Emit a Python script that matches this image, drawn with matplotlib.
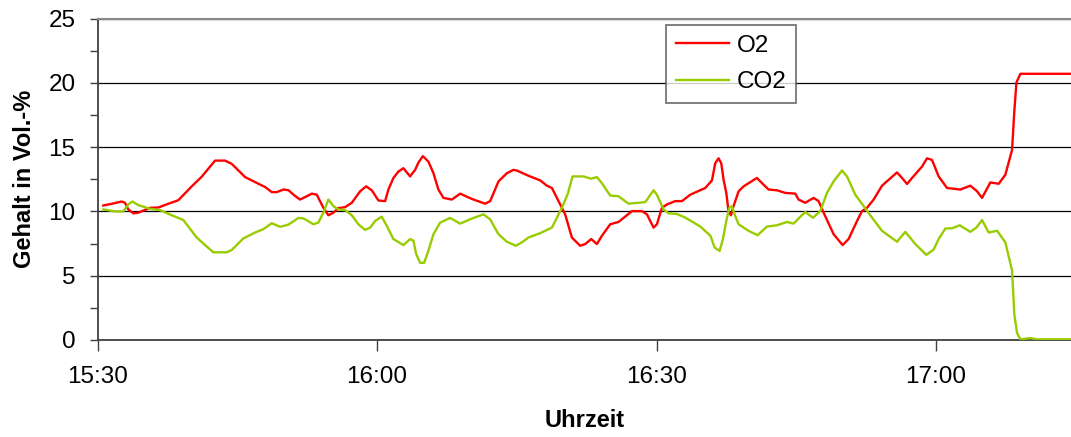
import matplotlib
matplotlib.use("Agg")
import matplotlib.pyplot as plt
from matplotlib.ticker import MultipleLocator

plt.rcParams['font.family'] = ['Liberation Sans', 'DejaVu Sans']

# minutes after 15:30
o2_t = [0.60, 1.50, 2.58, 2.93, 3.29, 3.82, 4.36, 5.62, 6.51, 7.23, 8.66, 10.10, 11.17, 12.60,
        13.67, 14.39, 15.82, 17.25, 17.97, 18.69, 19.23, 19.94, 20.47, 21.19, 21.73, 22.99,
        23.52, 24.23, 24.77, 25.31, 25.84, 26.56, 27.28, 28.17, 28.82, 29.43, 30.14, 30.86,
        31.21, 31.75, 32.29, 32.82, 33.54, 34.08, 34.44, 34.91, 35.51, 36.05, 36.58, 37.12,
        38.02, 38.92, 40.17, 41.60, 42.14, 43.03, 43.93, 44.64, 45.00, 46.25, 47.51, 48.23,
        48.77, 49.30, 50.19, 50.91, 51.80, 52.34, 52.99, 53.60, 54.13, 55.03, 55.92, 57.36,
        58.43, 58.97, 59.68, 60.04, 60.58, 61.12, 62.01, 62.73, 63.62, 65.23, 65.95, 66.30,
        66.66, 66.95, 67.20, 67.49, 67.73, 67.99, 68.27, 68.81, 69.35, 70.78, 71.32, 72.03,
        72.93, 73.82, 74.90, 75.25, 75.97, 76.86, 77.40, 77.94, 79.01, 79.98, 80.62, 81.53,
        82.06, 82.60, 83.31, 84.21, 85.82, 86.36, 86.90, 87.43, 88.51, 89.04, 89.58, 90.29,
        91.19, 92.62, 93.69, 94.42, 94.95, 95.84, 96.74, 97.45, 98.17, 98.42, 98.64, 99.07,
        104.44]
o2_v = [10.46, 10.59, 10.77, 10.67, 10.15, 9.85, 9.90, 10.28, 10.30, 10.50, 10.87, 11.95, 12.70,
        13.95, 13.95, 13.70, 12.67, 12.15, 11.90, 11.50, 11.50, 11.70, 11.65, 11.20, 10.92,
        11.38, 11.30, 10.28, 9.70, 9.90, 10.25, 10.33, 10.67, 11.56, 11.95, 11.64, 10.85,
        10.80, 11.70, 12.60, 13.10, 13.36, 12.72, 13.23, 13.80, 14.30, 13.87, 12.97, 11.70,
        11.05, 10.92, 11.38, 10.97, 10.60, 10.80, 12.33, 12.97, 13.23, 13.18, 12.77, 12.41,
        12.00, 11.82, 11.05, 9.77, 7.97, 7.33, 7.46, 7.85, 7.46, 8.10, 9.00, 9.18, 10.02,
        10.02, 9.77, 8.74, 9.00, 10.28, 10.54, 10.80, 10.80, 11.30, 11.82, 12.41, 13.74,
        14.13, 13.74, 12.46, 11.44, 10.02, 9.70, 10.41, 11.56, 11.95, 12.60, 12.20, 11.70,
        11.64, 11.44, 11.38, 10.92, 10.67, 11.05, 10.80, 9.90, 8.23, 7.38, 7.85, 9.26,
        10.02, 10.28, 10.92, 12.00, 13.03, 12.60, 12.13, 12.60, 13.49, 14.13, 14.00, 12.72,
        11.82, 11.70, 12.00, 11.56, 11.05, 12.25, 12.15, 12.85, 14.77, 17.85, 20.02, 20.70,
        20.70]

co2_t = [0.60, 1.86, 2.75, 3.29, 3.72, 4.36, 5.62, 6.69, 7.95, 9.19, 10.63, 11.53, 12.42, 13.86,
         14.39, 15.64, 16.90, 17.79, 18.69, 19.58, 20.47, 21.55, 22.08, 23.16, 23.69, 24.23,
         24.77, 25.31, 25.84, 26.56, 27.28, 27.99, 28.71, 29.25, 29.79, 30.50, 31.04, 31.75,
         32.82, 33.54, 33.90, 34.19, 34.62, 35.05, 35.51, 36.05, 36.77, 37.84, 38.92, 40.17,
         41.42, 42.14, 43.03, 43.93, 44.90, 45.54, 46.25, 47.51, 48.77, 49.84, 50.48, 50.98,
         52.16, 52.99, 53.60, 54.13, 55.03, 55.92, 56.99, 58.79, 59.68, 60.04, 60.75, 61.29,
         62.19, 63.10, 64.71, 65.79, 66.23, 66.77, 67.13, 67.49, 67.81, 68.10, 68.38, 68.81,
         69.88, 70.85, 71.86, 72.93, 74.01, 74.72, 75.44, 75.97, 76.80, 77.58, 78.30, 79.01,
         79.91, 80.45, 81.34, 82.24, 83.14, 84.21, 85.82, 86.71, 87.79, 88.97, 89.75, 90.29,
         91.01, 91.73, 92.55, 93.69, 94.34, 94.95, 95.66, 96.57, 97.45, 98.17, 98.42, 98.71,
         99.07, 100.14, 100.86, 104.44]
co2_v = [10.15, 10.00, 10.00, 10.54, 10.77, 10.49, 10.20, 10.10, 9.70, 9.33, 7.97, 7.38, 6.82,
         6.82, 7.00, 7.90, 8.36, 8.62, 9.08, 8.80, 8.97, 9.49, 9.46, 9.00, 9.13, 9.90, 10.92,
         10.41, 10.15, 10.10, 9.70, 9.00, 8.56, 8.74, 9.26, 9.59, 8.87, 7.85, 7.38, 7.85,
         7.72, 6.69, 6.00, 6.00, 6.95, 8.23, 9.13, 9.49, 9.05, 9.44, 9.77, 9.38, 8.23, 7.64,
         7.33, 7.59, 7.97, 8.31, 8.74, 10.28, 11.38, 12.72, 12.72, 12.54, 12.67, 12.20, 11.23,
         11.18, 10.60, 10.72, 11.64, 11.30, 10.15, 9.85, 9.80, 9.51, 8.82, 8.10, 7.20, 6.92,
         7.85, 9.26, 10.28, 10.41, 9.77, 9.00, 8.49, 8.15, 8.82, 8.92, 9.18, 9.05, 9.59,
         9.95, 9.51, 10.02, 11.44, 12.33, 13.18, 12.72, 11.30, 10.41, 9.51, 8.49, 7.64, 8.41,
         7.46, 6.62, 7.03, 7.85, 8.67, 8.69, 8.92, 8.41, 8.74, 9.33, 8.36, 8.49, 7.59, 5.41,
         1.95, 0.54, 0.05, 0.15, 0.05, 0.05]

x_ticks = [0, 30, 60, 90]
x_labels = ['15:30', '16:00', '16:30', '17:00']
series_names = ['O2', 'CO2']

FS = 17.5
FL = 17
W, H = 1071, 437
fig = plt.figure(figsize=(W / 100, H / 100), dpi=100)
ax = fig.add_axes([97.7 / W, 1 - 340 / H, 1 - 97.7 / W, (340 - 18.5) / H])

ax.plot(o2_t, o2_v, color='#FF0000', lw=1.7, label=series_names[0], zorder=3)
ax.plot(co2_t, co2_v, color='#99CC00', lw=1.7, label=series_names[1], zorder=3)

ax.set_xlim(0, 104.5)
ax.set_ylim(0, 25)
ax.set_xticks(x_ticks)
ax.set_xticklabels(x_labels)
ax.yaxis.set_major_locator(MultipleLocator(5))
ax.yaxis.set_minor_locator(MultipleLocator(2.5))
ax.tick_params(axis='both', labelsize=FS, colors='#000000', direction='out')
ax.tick_params(axis='y', which='major', length=6, width=1, pad=10, color='#404040')
ax.tick_params(axis='y', which='minor', length=6, width=1, color='#404040')
ax.tick_params(axis='x', which='major', length=8, width=1, pad=11, color='#404040')

ax.grid(axis='y', color='#000000', lw=0.9)
ax.set_axisbelow(True)
ax.spines['right'].set_visible(False)
ax.spines['top'].set_color('#888888')
ax.spines['top'].set_linewidth(1.5)
ax.spines['left'].set_color('#404040')
ax.spines['left'].set_linewidth(1.3)
ax.spines['bottom'].set_color('#404040')
ax.spines['bottom'].set_linewidth(1.3)

ax.set_ylabel('Gehalt in Vol.-%', fontsize=FL, fontweight='bold', labelpad=9)
ax.set_xlabel('Uhrzeit', fontsize=FL, fontweight='bold', labelpad=15)

leg = ax.legend(loc='upper left', bbox_to_anchor=(666 / W, 1 - 25 / H),
                bbox_transform=fig.transFigure, borderaxespad=0, fontsize=FS,
                frameon=True, fancybox=False, handlelength=2.2, handletextpad=0.3,
                labelspacing=0.6, borderpad=0.4)
leg.get_frame().set_edgecolor('#555555')
leg.get_frame().set_linewidth(1.3)
for l in leg.get_lines():
    l.set_linewidth(1.7)

fig.savefig('out.png', dpi=100)
